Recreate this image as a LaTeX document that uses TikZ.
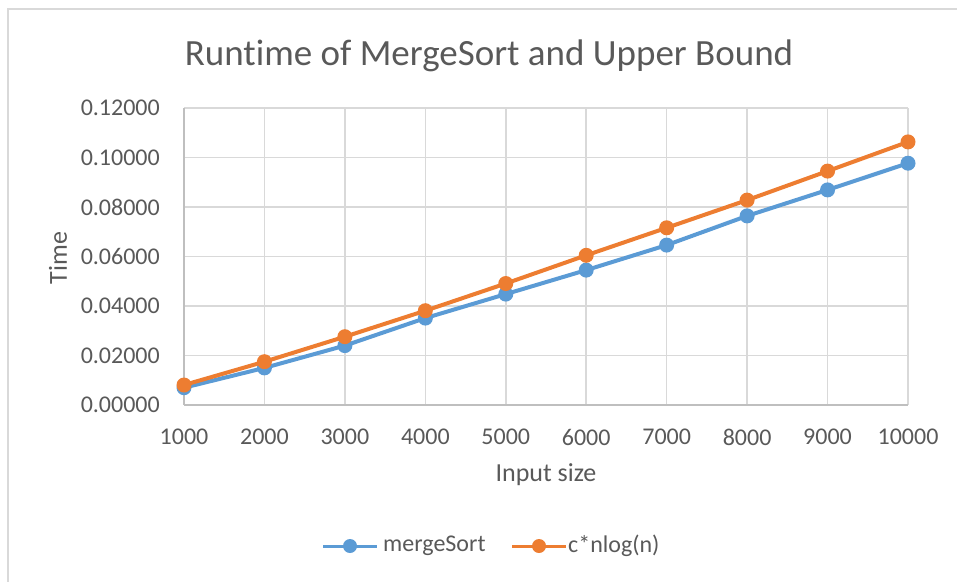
\documentclass[tikz,border=0pt]{standalone}
\usepackage{fontspec}
\setmainfont{Carlito}[RawFeature={-liga;-clig;-calt;-dlig}]
\definecolor{txt}{HTML}{595959}
\definecolor{gridc}{HTML}{D9D9D9}
\definecolor{axisc}{HTML}{BFBFBF}
\definecolor{serA}{HTML}{5B9BD5}
\definecolor{serB}{HTML}{ED7D31}
\tikzset{
  gridline/.style={draw=gridc, line width=1.5pt},
  axisline/.style={draw=axisc, line width=1.5pt},
  ticklab/.style={text=txt, font=\fontsize{24}{28}\selectfont, inner sep=0pt},
  axtitle/.style={text=txt, font=\fontsize{26}{30}\selectfont, inner sep=0pt},
  serline/.style={line width=4pt, line join=round, line cap=round},
  marker/.style={circle, inner sep=0pt, minimum size=15pt},
  legline/.style={line width=3pt},
  legmark/.style={circle, inner sep=0pt, minimum size=14pt},
}
\begin{document}
\begin{tikzpicture}[x=1pt,y=-1pt]
\useasboundingbox (0,0) rectangle (957,581);
% chart border
\draw[draw=gridc, line width=1.5pt] (8,9) rectangle (975,600);
% title
\node[text=txt, font=\fontsize{37}{44}\selectfont, inner sep=0pt, anchor=base] (title) at (489,65) {Runtime of MergeSort and Upper Bound};
% horizontal grid and y tick labels
\foreach \i/\lab in {0/0.00000,1/0.02000,2/0.04000,3/0.06000,4/0.08000,5/0.10000,6/0.12000}{
  \pgfmathsetmacro{\yy}{405-49.5*\i}
  \coordinate (hl\i) at (184,\yy);
  \coordinate (hr\i) at (908,\yy);
  \node[ticklab, anchor=east] (yl\i) at (160,\yy) {\lab};
}
\foreach \i in {1,...,6}{ \draw[gridline] (hl\i) -- (hr\i); }
% vertical grid and x tick labels
\foreach \i in {1,...,10}{
  \pgfmathsetmacro{\xx}{184+80.444*(\i-1)}
  \coordinate (vt\i) at (\xx,108);
  \coordinate (vb\i) at (\xx,405);
  \pgfmathtruncatemacro{\nn}{1000*\i}
  \node[ticklab] (xl\i) at (\xx,437) {\nn};
}
\foreach \i in {2,...,10}{ \draw[gridline] (vt\i) -- (vb\i); }
% axes
\draw[axisline] (vt1) -- (vb1);
\draw[axisline] (hl0) -- (hr0);
% axis titles
\node[axtitle] (xtitle) at (546,475) {Input size};
\node[axtitle, rotate=90] (ytitle) at (58,258) {Time};
% data
\foreach \i/\yb/\yo in {1/387.7/385.0, 2/367.9/361.7, 3/345.6/336.7, 4/318.1/310.7, 5/294.1/283.5,
                         6/270.1/255.3, 7/245.1/227.8, 8/215.9/200.1, 9/189.9/171.1, 10/163.2/141.9}{
  \pgfmathsetmacro{\xx}{184+80.444*(\i-1)}
  \coordinate (b\i) at (\xx,\yb);
  \coordinate (o\i) at (\xx,\yo);
}
\draw[serline, serA] (b1) -- (b2) -- (b3) -- (b4) -- (b5) -- (b6) -- (b7) -- (b8) -- (b9) -- (b10);
\foreach \i in {1,...,10}{ \node[marker, fill=serA] (mb\i) at (b\i) {}; }
\draw[serline, serB] (o1) -- (o2) -- (o3) -- (o4) -- (o5) -- (o6) -- (o7) -- (o8) -- (o9) -- (o10);
\foreach \i in {1,...,10}{ \node[marker, fill=serB] (mo\i) at (o\i) {}; }
% legend
\coordinate (la1) at (323,546);
\coordinate (la2) at (377,546);
\draw[legline, serA] (la1) -- (la2);
\node[legmark, fill=serA] (lma) at (350,546) {};
\node[ticklab, anchor=west] (lta) at (383,546) {mergeSort};
\coordinate (lb1) at (512,546);
\coordinate (lb2) at (566,546);
\draw[legline, serB] (lb1) -- (lb2);
\node[legmark, fill=serB] (lmb) at (539,546) {};
\node[ticklab, anchor=west] (ltb) at (568,546) {c*nlog(n)};
\end{tikzpicture}
\end{document}
